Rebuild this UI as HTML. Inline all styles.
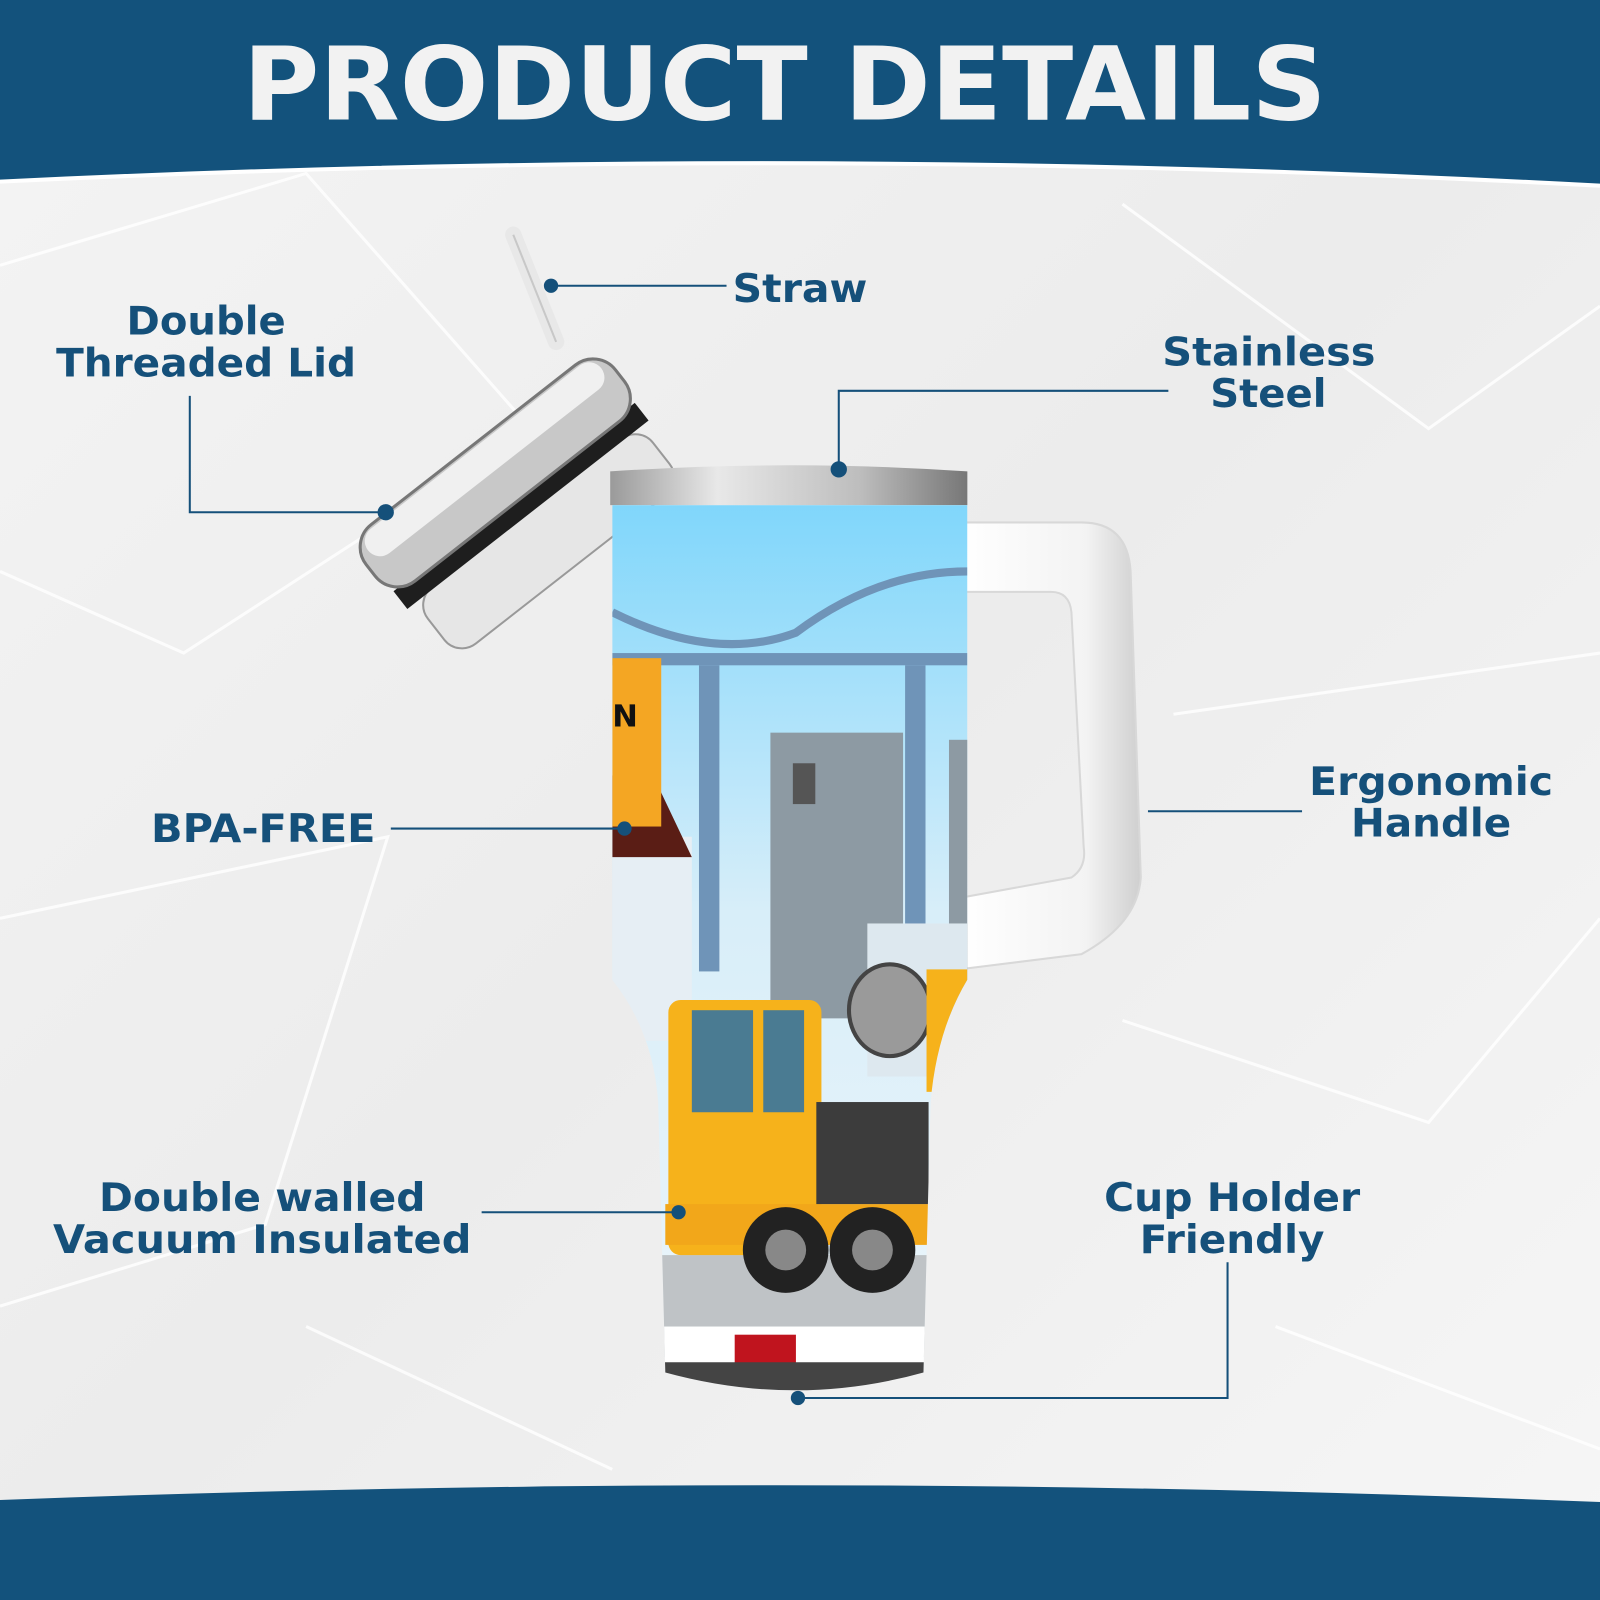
<!DOCTYPE html>
<html><head><style>
html,body{margin:0;padding:0;background:#fff;}
svg{display:block}
text{font-family:"DejaVu Sans","Liberation Sans",sans-serif;font-weight:bold;fill:#15507a;}
</style></head><body>
<svg width="1600" height="1600" viewBox="0 0 1568 1568" xmlns="http://www.w3.org/2000/svg">
<defs>
<linearGradient id="bg" x1="0" y1="0" x2="1" y2="1"><stop offset="0" stop-color="#f4f4f4"/><stop offset="0.5" stop-color="#ececec"/><stop offset="1" stop-color="#f6f6f6"/></linearGradient>
<linearGradient id="sky" x1="0" y1="0" x2="0" y2="1"><stop offset="0" stop-color="#7fd6fb"/><stop offset="0.45" stop-color="#d8eef9"/><stop offset="1" stop-color="#eef6fa"/></linearGradient>
<linearGradient id="steel" x1="0" y1="0" x2="1" y2="0"><stop offset="0" stop-color="#9a9a9a"/><stop offset="0.3" stop-color="#e8e8e8"/><stop offset="0.7" stop-color="#bdbdbd"/><stop offset="1" stop-color="#777"/></linearGradient>
<linearGradient id="hdl" x1="0" y1="0" x2="1" y2="0"><stop offset="0" stop-color="#fff"/><stop offset="0.7" stop-color="#f3f3f3"/><stop offset="1" stop-color="#cfcfcf"/></linearGradient>
<clipPath id="body"><path d="M600 495 L948 495 L948 960 Q918 1010 912 1080 L905 1345 Q780 1380 652 1345 L645 1080 Q640 1010 600 960 Z"/></clipPath>
</defs>
<rect width="1568" height="1568" fill="url(#bg)"/>
<g fill="none" stroke="#fff" stroke-width="3" opacity="0.8">
<path d="M0 260 L300 170 L520 420 L180 640 L0 560"/><path d="M1100 200 L1400 420 L1568 300"/><path d="M1150 700 L1568 640"/><path d="M0 900 L380 820 L260 1200 L0 1280"/><path d="M1100 1000 L1400 1100 L1568 900"/><path d="M300 1300 L600 1440"/><path d="M1250 1300 L1568 1420"/>
</g>
<path d="M0 0 H1568 V182 Q784 140 0 178 Z" fill="#13527c"/>
<path d="M0 178 Q784 140 1568 182" stroke="#fff" stroke-width="4" fill="none"/>
<path d="M0 1470 Q784 1440 1568 1472 V1568 H0 Z" fill="#13527c"/>
<text x="238" y="117" textLength="1062" lengthAdjust="spacingAndGlyphs" style="font-size:100px;fill:#f2f2f2">PRODUCT DETAILS</text>

<!-- straw -->
<path d="M503 230 L545 335" stroke="#e8e8e8" stroke-width="16" stroke-linecap="round"/>
<path d="M503 230 L545 335" stroke="#c8c8c8" stroke-width="2" fill="none"/>
<!-- lid -->
<g transform="translate(510 495) rotate(-38)">
<rect x="-140" y="10" width="280" height="70" rx="22" fill="#e6e6e6" stroke="#999" stroke-width="2"/>
<rect x="-150" y="-10" width="300" height="22" fill="#1e1e1e"/>
<rect x="-155" y="-75" width="310" height="70" rx="28" fill="#c8c8c8" stroke="#777" stroke-width="3"/>
<rect x="-145" y="-72" width="290" height="30" rx="15" fill="#f0f0f0"/>
</g>
<!-- handle -->
<path d="M940 512 L1060 512 Q1105 512 1108 560 L1118 860 Q1115 905 1060 935 L940 950 L940 880 L1050 860 Q1065 850 1062 830 L1050 600 Q1048 580 1030 580 L940 580 Z" fill="url(#hdl)" stroke="#d8d8d8" stroke-width="2"/>
<!-- rim -->
<path d="M598 462 Q774 450 948 462 L948 495 L598 495 Z" fill="url(#steel)"/>
<!-- body scene -->
<g clip-path="url(#body)">
<rect x="590" y="490" width="370" height="900" fill="url(#sky)"/>
<path d="M600 600 Q700 650 780 620 Q860 560 948 560" stroke="#6f94b8" stroke-width="8" fill="none"/>
<rect x="600" y="640" width="348" height="12" fill="#6f94b8"/>
<rect x="685" y="652" width="20" height="300" fill="#6f94b8"/>
<rect x="887" y="652" width="20" height="300" fill="#6f94b8"/>
<rect x="755" y="718" width="130" height="280" fill="#8d9aa3"/>
<rect x="930" y="725" width="20" height="280" fill="#8d9aa3"/>
<rect x="777" y="748" width="22" height="40" fill="#555"/>
<rect x="600" y="820" width="78" height="200" fill="#e6eef4"/>
<path d="M600 760 L640 760 L678 840 L600 840 Z" fill="#5a1d15"/>
<rect x="600" y="645" width="48" height="165" fill="#f4a623"/>
<text x="600" y="712" style="font-size:30px;fill:#111">N</text>
<rect x="850" y="905" width="98" height="150" fill="#dde8ef"/>
<rect x="600" y="1230" width="348" height="100" fill="#bfc3c6"/>
<rect x="600" y="1300" width="348" height="60" fill="#fff"/>
<rect x="720" y="1308" width="60" height="28" fill="#c0141e"/>
<rect x="600" y="1335" width="348" height="40" fill="#444"/>
<rect x="655" y="980" width="150" height="250" rx="12" fill="#f6b21b"/>
<rect x="678" y="990" width="60" height="100" fill="#4a7b92"/>
<rect x="748" y="990" width="40" height="100" fill="#4a7b92"/>
<rect x="652" y="1180" width="260" height="40" fill="#f2a71a"/>
<rect x="800" y="1080" width="110" height="100" fill="#3c3c3c"/>
<ellipse cx="872" cy="990" rx="40" ry="45" fill="#9a9a9a" stroke="#444" stroke-width="4"/>
<rect x="908" y="950" width="40" height="120" fill="#f6b21b"/>
<circle cx="770" cy="1225" r="42" fill="#222"/><circle cx="770" cy="1225" r="20" fill="#888"/>
<circle cx="855" cy="1225" r="42" fill="#222"/><circle cx="855" cy="1225" r="20" fill="#888"/>
</g>

<g stroke="#15507a" stroke-width="2" fill="none">
<path d="M540 280 H712"/>
<path d="M186 388 V502 H378"/>
<path d="M822 460 V383 H1145"/>
<path d="M383 812 H612"/>
<path d="M1125 795 H1276"/>
<path d="M472 1188 H665"/>
<path d="M782 1370 H1203 V1237"/>
</g>
<g fill="#15507a">
<circle cx="540" cy="280" r="7"/><circle cx="378" cy="502" r="8"/><circle cx="822" cy="460" r="8"/><circle cx="612" cy="812" r="7"/><circle cx="665" cy="1188" r="7"/><circle cx="782" cy="1370" r="7"/>
</g>
<g style="font-size:38px" lengthAdjust="spacingAndGlyphs">
<text x="718" y="296" textLength="132" lengthAdjust="spacingAndGlyphs">Straw</text>
<text x="124" y="328" textLength="156" lengthAdjust="spacingAndGlyphs">Double</text>
<text x="55" y="369" textLength="294" lengthAdjust="spacingAndGlyphs">Threaded Lid</text>
<text x="1139" y="358" textLength="209" lengthAdjust="spacingAndGlyphs">Stainless</text>
<text x="1186" y="399" textLength="114" lengthAdjust="spacingAndGlyphs">Steel</text>
<text x="148" y="825" textLength="220" lengthAdjust="spacingAndGlyphs">BPA-FREE</text>
<text x="1283" y="779" textLength="239" lengthAdjust="spacingAndGlyphs">Ergonomic</text>
<text x="1324" y="820" textLength="157" lengthAdjust="spacingAndGlyphs">Handle</text>
<text x="97" y="1187" textLength="320" lengthAdjust="spacingAndGlyphs">Double walled</text>
<text x="52" y="1228" textLength="410" lengthAdjust="spacingAndGlyphs">Vacuum Insulated</text>
<text x="1082" y="1187" textLength="251" lengthAdjust="spacingAndGlyphs">Cup Holder</text>
<text x="1117" y="1228" textLength="181" lengthAdjust="spacingAndGlyphs">Friendly</text>
</g>
</svg>
</body></html>
